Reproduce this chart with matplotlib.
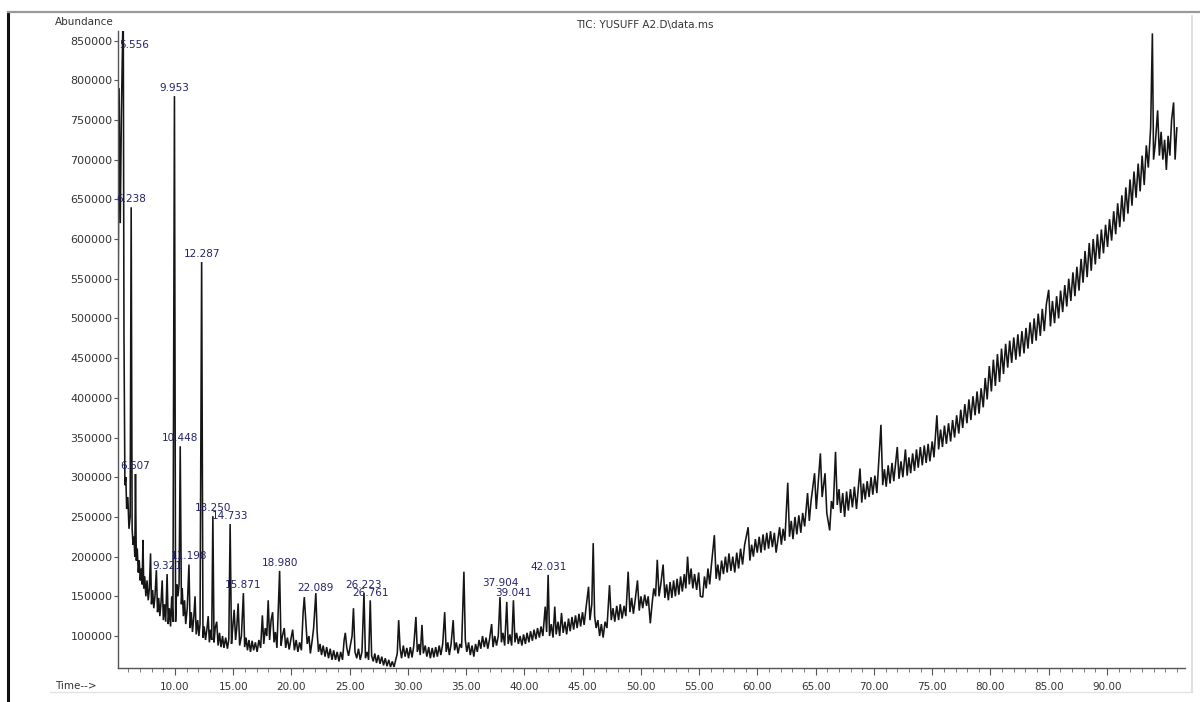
import matplotlib
matplotlib.use("Agg")
import matplotlib.pyplot as plt
from matplotlib.ticker import MultipleLocator, FixedLocator, FuncFormatter
from matplotlib.lines import Line2D

plt.rcParams['font.family'] = ['DejaVu Sans']

# ---------------- data (retention time in min, abundance in thousands) -------------
time_early = [5.10, 5.20, 5.30, 5.40, 5.556, 5.62, 5.70, 5.78, 5.85, 5.95, 6.05, 6.15, 6.238, 6.32,
              6.40, 6.48, 6.55, 6.607, 6.68, 6.76, 6.85, 6.93, 7.02, 7.10, 7.18, 7.25, 7.32, 7.40,
              7.50, 7.60, 7.70, 7.80, 7.90, 7.98, 8.08, 8.18, 8.28, 8.40, 8.50, 8.60, 8.70, 8.80,
              8.90, 9.00, 9.10, 9.20, 9.321, 9.42, 9.52, 9.62, 9.72, 9.82, 9.953, 10.05, 10.15,
              10.25, 10.35, 10.448, 10.55, 10.62, 10.72, 10.82, 10.92, 11.05, 11.198, 11.30, 11.40,
              11.50, 11.62, 11.72, 11.82, 11.95, 12.05, 12.15, 12.287, 12.40, 12.50, 12.62, 12.75,
              12.85, 12.95, 13.05, 13.15, 13.250, 13.35, 13.45, 13.58, 13.70, 13.82, 13.95, 14.08,
              14.20, 14.35, 14.50, 14.62, 14.733, 14.85, 14.95, 15.08, 15.20, 15.30, 15.42, 15.55,
              15.70, 15.871, 15.98, 16.10, 16.22, 16.35, 16.48, 16.62, 16.75, 16.90, 17.05, 17.20,
              17.35, 17.50, 17.62, 17.75, 17.88, 18.00, 18.12, 18.25, 18.38, 18.50, 18.62, 18.75,
              18.980, 19.10, 19.22, 19.38, 19.50, 19.65, 19.80, 19.95, 20.10, 20.25, 20.40, 20.55,
              20.70]
abund_early = [470, 790, 620, 760, 900, 480, 290, 300, 260, 275, 235, 250, 640, 235,
               215, 225, 200, 304, 195, 210, 180, 195, 170, 185, 165, 221, 160, 175,
               150, 170, 145, 160, 204, 140, 158, 135, 150, 183, 130, 148, 125, 142,
               170, 120, 140, 118, 178, 115, 135, 112, 150, 118, 780, 118, 165,
               150, 165, 339, 140, 160, 125, 145, 115, 135, 190, 110, 130,
               105, 125, 150, 102, 120, 100, 115, 571, 98, 112, 95, 110,
               125, 92, 108, 95, 251, 92, 110, 118, 88, 104, 86, 100,
               85, 98, 84, 96, 241, 90, 110, 133, 95, 110, 141, 88,
               100, 154, 86, 98, 82, 95, 80, 94, 82, 92, 80, 95,
               85, 126, 90, 110, 100, 145, 95, 120, 130, 92, 105, 85,
               182, 88, 100, 110, 85, 98, 83, 96, 108, 82, 95, 80,
               92]

time_mid = [20.85, 21.00, 21.10, 21.22, 21.35, 21.50, 21.62, 21.78, 21.90, 22.089, 22.20, 22.32,
            22.45, 22.58, 22.72, 22.88, 23.02, 23.18, 23.32, 23.48, 23.62, 23.78, 23.92, 24.08,
            24.22, 24.38, 24.52, 24.62, 24.75, 24.90, 25.05, 25.20, 25.32, 25.45, 25.60, 25.75,
            25.90, 26.05, 26.223, 26.35, 26.50, 26.62, 26.761, 26.88, 27.02, 27.15, 27.30, 27.45,
            27.60, 27.75, 27.90, 28.05, 28.20, 28.35, 28.50, 28.65, 28.80, 28.95, 29.08, 29.20,
            29.32, 29.45, 29.60, 29.75, 29.90, 30.05, 30.20, 30.35, 30.50, 30.68, 30.80, 30.95,
            31.05, 31.20, 31.32, 31.48, 31.62, 31.78, 31.92, 32.08, 32.22, 32.38, 32.52, 32.68,
            32.82, 32.98, 33.15, 33.28, 33.42, 33.55, 33.70, 33.88, 34.00, 34.15, 34.30, 34.45,
            34.60, 34.80, 34.92, 35.05, 35.20, 35.35, 35.50, 35.65, 35.80, 35.95, 36.10, 36.25,
            36.40, 36.55, 36.70, 36.85, 37.00, 37.18, 37.30, 37.45, 37.60, 37.75, 37.90, 38.02,
            38.15, 38.30, 38.48, 38.60, 38.75, 38.90, 39.05, 39.18, 39.32, 39.48, 39.62, 39.78,
            39.92, 40.08, 40.22, 40.38, 40.52, 40.68, 40.82, 40.98, 41.12, 41.28, 41.42, 41.58,
            41.78, 41.90, 42.031, 42.15, 42.30, 42.45, 42.60, 42.72, 42.88, 43.02, 43.18, 43.32,
            43.48, 43.62, 43.78, 43.92, 44.08, 44.22, 44.38, 44.52, 44.68, 44.82, 44.98, 45.12,
            45.28, 45.50, 45.62, 45.78, 45.90, 46.02, 46.15, 46.30, 46.45, 46.60, 46.75, 46.92,
            47.08, 47.30, 47.45, 47.60, 47.75, 47.92, 48.08, 48.22, 48.38, 48.55, 48.70, 48.90,
            49.05, 49.20, 49.35, 49.50, 49.70, 49.85, 50.00, 50.15, 50.32, 50.48, 50.62, 50.80,
            50.95, 51.10, 51.25, 51.40, 51.55, 51.70, 51.90, 52.05, 52.20, 52.35, 52.50, 52.65,
            52.80, 52.95, 53.10, 53.25, 53.40, 53.55, 53.72, 53.85, 54.00, 54.15, 54.30, 54.45,
            54.60, 54.78, 54.95, 55.10]
abund_mid = [82, 130, 149, 120, 90, 100, 78, 95, 110, 154, 105, 80,
             90, 76, 88, 74, 86, 72, 84, 70, 82, 70, 80, 68,
             80, 70, 95, 104, 85, 75, 88, 100, 135, 80, 72, 84,
             70, 80, 154, 72, 80, 70, 145, 75, 68, 78, 66, 76,
             65, 74, 63, 72, 62, 70, 61, 68, 61, 70, 78, 120,
             85, 72, 88, 74, 85, 72, 86, 73, 88, 124, 80, 90,
             76, 114, 78, 88, 74, 86, 72, 85, 73, 86, 74, 88,
             76, 90, 130, 80, 92, 76, 90, 120, 82, 92, 78, 90,
             85, 181, 95, 80, 92, 76, 88, 74, 90, 80, 95, 84,
             100, 86, 98, 84, 96, 115, 86, 100, 88, 100, 149, 92,
             104, 88, 143, 90, 102, 88, 145, 92, 104, 90, 100, 88,
             102, 90, 104, 92, 106, 94, 108, 96, 110, 98, 112, 100,
             137, 105, 177, 100, 115, 98, 137, 102, 118, 100, 129, 104,
             118, 102, 122, 106, 124, 108, 126, 110, 128, 112, 130, 114,
             135, 162, 120, 140, 217, 125, 110, 120, 100, 115, 98, 118,
             110, 164, 120, 135, 118, 138, 120, 140, 122, 138, 125, 181,
             130, 148, 128, 145, 170, 132, 150, 135, 152, 138, 150, 116,
             140, 160, 150, 196, 150, 165, 190, 148, 165, 145, 168, 148,
             170, 150, 172, 152, 175, 156, 178, 160, 200, 165, 185, 160,
             178, 158, 180, 150]

time_late = [55.30, 55.45, 55.60, 55.75, 55.90, 56.05, 56.30, 56.45, 56.60, 56.75, 56.92, 57.08,
             57.25, 57.40, 57.55, 57.72, 57.88, 58.05, 58.22, 58.38, 58.55, 58.72, 58.90, 59.20,
             59.35, 59.50, 59.65, 59.82, 59.98, 60.15, 60.30, 60.48, 60.62, 60.80, 60.95, 61.12,
             61.28, 61.45, 61.60, 61.90, 62.05, 62.20, 62.35, 62.60, 62.75, 62.90, 63.05, 63.22,
             63.38, 63.55, 63.72, 63.88, 64.05, 64.30, 64.45, 64.60, 64.90, 65.05, 65.20, 65.40,
             65.55, 65.80, 65.95, 66.20, 66.35, 66.50, 66.70, 66.85, 67.00, 67.15, 67.32, 67.48,
             67.65, 67.80, 67.98, 68.15, 68.32, 68.50, 68.80, 68.95, 69.10, 69.25, 69.42, 69.58,
             69.75, 69.90, 70.08, 70.25, 70.60, 70.75, 70.90, 71.05, 71.22, 71.38, 71.55, 71.70,
             72.00, 72.15, 72.32, 72.48, 72.70, 72.85, 73.00, 73.15, 73.32, 73.48, 73.65, 73.80,
             73.98, 74.15, 74.32, 74.48, 74.65, 74.80, 75.00, 75.15, 75.40, 75.55, 75.72, 75.88,
             76.05, 76.22, 76.40, 76.58, 76.75, 76.92, 77.10, 77.28, 77.45, 77.62, 77.80, 77.98,
             78.15, 78.32, 78.50, 78.68, 78.85, 79.02, 79.20, 79.38, 79.55, 79.72, 79.90, 80.08,
             80.25, 80.42, 80.60, 80.78, 80.95, 81.12, 81.30, 81.48, 81.65, 81.82, 82.00, 82.18,
             82.35, 82.52, 82.70, 82.88, 83.05, 83.22, 83.40, 83.58, 83.75, 83.92, 84.10, 84.28,
             84.45, 84.62, 84.80, 85.00, 85.15, 85.32, 85.50, 85.68, 85.85, 86.02, 86.20, 86.38,
             86.55, 86.72, 86.90, 87.08, 87.25, 87.42, 87.60, 87.78, 87.95, 88.12, 88.30, 88.48,
             88.65, 88.82, 89.00, 89.18, 89.35, 89.52, 89.70, 89.88, 90.05, 90.22, 90.40, 90.58,
             90.75, 90.92, 91.10, 91.28, 91.45, 91.62, 91.80, 91.98, 92.15, 92.32, 92.50, 92.68,
             92.85, 93.02, 93.20, 93.38, 93.55, 93.75, 93.90, 94.00, 94.15, 94.35, 94.50, 94.65,
             94.80, 94.95, 95.10, 95.25, 95.40, 95.55, 95.72, 95.85, 96.00]
abund_late = [149, 175, 160, 185, 165, 190, 227, 172, 190, 170, 195, 178,
              200, 180, 204, 182, 200, 180, 205, 185, 210, 190, 215, 237,
              195, 215, 200, 222, 205, 225, 205, 228, 208, 230, 210, 232,
              212, 230, 205, 237, 215, 235, 220, 293, 225, 245, 222, 250,
              228, 252, 230, 255, 238, 280, 245, 270, 305, 260, 290, 330,
              275, 305, 255, 233, 270, 260, 332, 265, 285, 255, 280, 250,
              282, 258, 285, 262, 288, 260, 311, 268, 292, 272, 295, 275,
              300, 278, 302, 280, 366, 290, 310, 288, 315, 292, 318, 295,
              338, 298, 320, 300, 335, 302, 325, 305, 330, 308, 335, 312,
              338, 315, 340, 318, 342, 320, 345, 325, 378, 335, 360, 338,
              365, 342, 368, 345, 372, 350, 378, 355, 385, 362, 392, 368,
              398, 372, 402, 378, 408, 380, 412, 388, 425, 398, 440, 408,
              448, 415, 455, 420, 462, 430, 468, 438, 472, 444, 476, 448,
              480, 452, 484, 456, 488, 462, 495, 468, 500, 472, 506, 478,
              512, 484, 518, 536, 490, 522, 494, 528, 500, 535, 508, 542,
              515, 550, 522, 558, 528, 565, 535, 575, 545, 585, 552, 595,
              560, 600, 568, 606, 575, 612, 582, 618, 590, 625, 598, 635,
              606, 645, 615, 655, 622, 665, 632, 675, 642, 685, 652, 695,
              660, 705, 668, 718, 690, 740, 859, 700, 720, 762, 705, 735,
              700, 725, 687, 730, 705, 750, 772, 700, 740]

peak_labels = ["5.556", "6.238", "6.607", "9.321", "9.953", "10.448", "11.198", "12.287",
               "13.250", "14.733", "15.871", "18.980", "22.089", "26.223", "26.761",
               "37.904", "39.041", "42.031"]
peak_label_heights = [838, 640, 304, 178, 780, 339, 190, 571,
                      251, 241, 154, 182, 150, 154, 144,
                      156, 144, 177]

y_ticks = [100000, 150000, 200000, 250000, 300000, 350000, 400000, 450000,
           500000, 550000, 600000, 650000, 700000, 750000, 800000, 850000]
x_tick_labels = ["10.00", "15.00", "20.00", "25.00", "30.00", "35.00", "40.00", "45.00",
                 "50.00", "55.00", "60.00", "65.00", "70.00", "75.00", "80.00", "85.00", "90.00"]

title = "TIC: YUSUFF A2.D\\data.ms"

# ---------------- figure ----------------
W, H = 1200, 702
fig = plt.figure(figsize=(W / 100, H / 100), dpi=100, facecolor="white")

def fx(px):
    return px / W

def fy(py):
    return 1 - py / H

# outer frame lines of scanned page
fig.add_artist(Line2D([fx(8), fx(8)], [fy(12), fy(702)], color="#111111", lw=2.2))
fig.add_artist(Line2D([fx(8), fx(1200)], [fy(12), fy(12)], color="#9a9a9a", lw=1.6))
fig.add_artist(Line2D([fx(1192), fx(1192)], [fy(16), fy(692)], color="#d6ddd6", lw=1.2))
fig.add_artist(Line2D([fx(50), fx(1192)], [fy(692), fy(692)], color="#dfe6df", lw=1.0))

left_px, right_px, top_px, bot_px = 118, 1185, 31, 668
ax = fig.add_axes([fx(left_px), fy(bot_px), (right_px - left_px) / W, (bot_px - top_px) / H])
ax.set_facecolor("white")

t_all = time_early + time_mid + time_late
a_all = [v * 1000 for v in abund_early + abund_mid + abund_late]
ax.plot(t_all, a_all, color="#151515", lw=1.15, solid_joinstyle="miter")

ax.set_xlim(5.107, 96.7)
ax.set_ylim(59700, 862000)

for s in ["top", "right"]:
    ax.spines[s].set_visible(False)
ax.spines["left"].set_color("#555555")
ax.spines["bottom"].set_color("#555555")
ax.spines["left"].set_linewidth(1.0)
ax.spines["bottom"].set_linewidth(1.0)

x_major = [float(s) for s in x_tick_labels]
ax.xaxis.set_major_locator(FixedLocator(x_major))
ax.set_xticklabels(x_tick_labels)
ax.xaxis.set_minor_locator(MultipleLocator(1))
ax.set_yticks(y_ticks)
ax.yaxis.set_major_formatter(FuncFormatter(lambda v, p: f"{int(v)}"))

ax.tick_params(axis="x", which="major", length=5, width=0.8, color="#555555",
               labelsize=7.5, labelcolor="#333333", pad=5)
ax.tick_params(axis="x", which="minor", length=3, width=0.6, color="#666666")
ax.tick_params(axis="y", which="major", length=3, width=0.8, color="#555555",
               labelsize=8, labelcolor="#333333", pad=1)

# peak labels
label_color = "#22226a"
for i, (lab, h) in enumerate(zip(peak_labels, peak_label_heights)):
    t = float(lab)
    if i == 0:
        ax.text(5.22, h * 1000, lab, ha="left", va="bottom", fontsize=7.5,
                color=label_color, clip_on=False)
    else:
        ax.text(t, h * 1000 + 4000, lab, ha="center", va="bottom", fontsize=7.5,
                color=label_color, clip_on=False)

fig.text(fx(55), fy(22), "Abundance", fontsize=7.5, color="#333333", ha="left", va="center")
fig.text(fx(55), fy(686), "Time-->", fontsize=7.5, color="#333333", ha="left", va="center")
fig.text(fx(645), fy(25), title, fontsize=7.5, color="#333333", ha="center", va="center")

fig.savefig("out.png", dpi=100, facecolor="white")
